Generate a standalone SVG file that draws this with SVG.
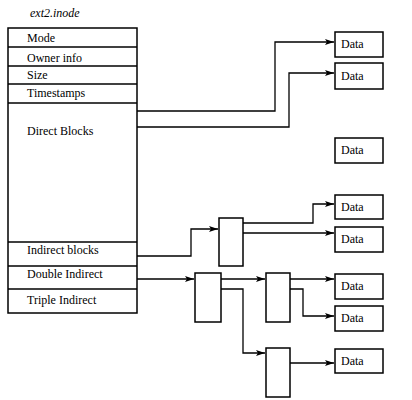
<svg xmlns="http://www.w3.org/2000/svg" width="412" height="400" viewBox="0 0 412 400">
<style>
text{font-family:'Liberation Serif','DejaVu Serif','Times New Roman',serif;font-size:12px;fill:#000}
.box{fill:#fff;stroke:#000;stroke-width:1.5}
.ln{fill:none;stroke:#000;stroke-width:1.3}
.arr{fill:none;stroke:#000;stroke-width:1.3;marker-end:url(#ah)}
</style>
<defs>
<marker id="ah" markerUnits="userSpaceOnUse" markerWidth="10" markerHeight="8" refX="9" refY="4" orient="auto">
<path d="M0,1 L9,4 L0,7 L2,4 Z" fill="#000"/>
</marker>
</defs>
<rect width="412" height="400" fill="#fff"/>
<g id="connectors">
<polyline class="arr" points="137,111 275,111 275,42 334,42"/>
<polyline class="arr" points="137,127 289,127 289,73 334,73"/>
<polyline class="arr" points="137,256 191,256 191,229 218,229"/>
<polyline class="arr" points="243,223 313,223 313,204 334,204"/>
<polyline class="arr" points="243,233 334,233"/>
<polyline class="arr" points="137,279 194,279"/>
<polyline class="arr" points="221,279 265,279"/>
<polyline class="arr" points="290,279 334,279"/>
<polyline class="arr" points="221,289 243,289 243,353 265,353"/>
<polyline class="arr" points="290,289 303,289 303,316 334,316"/>
<polyline class="arr" points="290,363 334,363"/>
</g>
<g id="inode">
<text x="30" y="17" font-style="italic">ext2.inode</text>
<rect class="box" x="8" y="28" width="129" height="285"/>
<line class="ln" x1="8" y1="47" x2="137" y2="47"/>
<line class="ln" x1="8" y1="66" x2="137" y2="66"/>
<line class="ln" x1="8" y1="84" x2="137" y2="84"/>
<line class="ln" x1="8" y1="103" x2="137" y2="103"/>
<line class="ln" x1="8" y1="242" x2="137" y2="242"/>
<line class="ln" x1="8" y1="266" x2="137" y2="266"/>
<line class="ln" x1="8" y1="289" x2="137" y2="289"/>
<text x="27" y="42">Mode</text>
<text x="27" y="62">Owner info</text>
<text x="27" y="79">Size</text>
<text x="27" y="97">Timestamps</text>
<text x="27" y="135">Direct Blocks</text>
<text x="27" y="254">Indirect blocks</text>
<text x="27" y="278">Double Indirect</text>
<text x="27" y="304">Triple Indirect</text>
</g>
<g id="ind1"><rect class="box" x="219" y="218" width="24" height="48"/></g>
<g id="dind1"><rect class="box" x="195" y="273" width="26" height="49"/></g>
<g id="dind2"><rect class="box" x="266" y="273" width="24" height="49"/></g>
<g id="dind3"><rect class="box" x="266" y="348" width="24" height="49"/></g>
<g id="data1"><rect class="box" x="335" y="32" width="48" height="25"/><text x="341" y="48">Data</text></g>
<g id="data2"><rect class="box" x="335" y="63" width="48" height="26"/><text x="341" y="80">Data</text></g>
<g id="data3"><rect class="box" x="335" y="138" width="48" height="25"/><text x="341" y="154">Data</text></g>
<g id="data4"><rect class="box" x="335" y="195" width="48" height="24"/><text x="341" y="211">Data</text></g>
<g id="data5"><rect class="box" x="335" y="227" width="48" height="25"/><text x="341" y="243">Data</text></g>
<g id="data6"><rect class="box" x="335" y="274" width="48" height="25"/><text x="341" y="290">Data</text></g>
<g id="data7"><rect class="box" x="335" y="306" width="48" height="25"/><text x="341" y="322">Data</text></g>
<g id="data8"><rect class="box" x="335" y="349" width="48" height="24"/><text x="341" y="365">Data</text></g>
</svg>
